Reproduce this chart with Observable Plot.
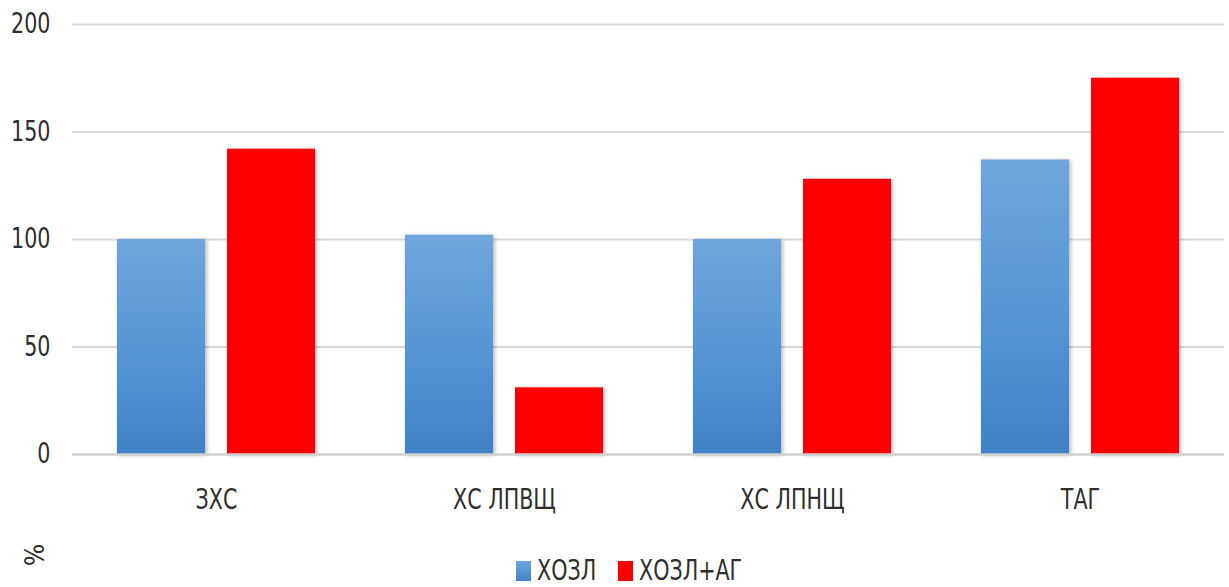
<!DOCTYPE html>
<html>
<head>
<meta charset="utf-8">
<script src="https://cdn.jsdelivr.net/npm/d3@7"></script>
<script src="https://cdn.jsdelivr.net/npm/@observablehq/plot@0.6"></script>
<style>
  body { margin: 0; background: #fff; }
  #wrap { position: relative; width: 1229px; height: 587px; font-family: "Liberation Sans Narrow", "DejaVu Sans Condensed", "Liberation Sans", sans-serif; color: #2e2e2e; }
  #legend { position: relative; height: 47px; display: flex; justify-content: center; align-items: center; gap: 22px; font-size: 28px; padding-top: 14px; padding-left: 29px; box-sizing: border-box; }
  .item { display: flex; align-items: center; gap: 6px; }
  .sw { width: 15px; height: 20px; display: inline-block; }
  .lt { display: inline-block; transform: scaleX(0.82); transform-origin: left center; }
  #pct { position: absolute; left: 24px; top: 0px; font-size: 26px; transform: rotate(-90deg); transform-origin: center; }
</style>
</head>
<body>
<div id="wrap"></div>
<script>
// Lipid profile indicators, % of reference
const categories = ["ЗХС", "ХС ЛПВЩ", "ХС ЛПНЩ", "ТАГ"];
const seriesNames = ["ХОЗЛ", "ХОЗЛ+АГ"];
const copdValues = [100, 102, 100, 137];
const copdAhValues = [142, 31, 128, 175];
const yTicks = [0, 50, 100, 150, 200];
const axisTitle = "%";

const data = categories.flatMap((c, i) => [
  {category: c, series: seriesNames[0], value: copdValues[i]},
  {category: c, series: seriesNames[1], value: copdAhValues[i]}
]);

const font = '"Liberation Sans Narrow", "DejaVu Sans Condensed", "Liberation Sans", sans-serif';
const squeeze = 0.82; // narrow lettering

const chart = Plot.plot({
  width: 1229,
  height: 540,
  marginLeft: 70,
  marginRight: 4,
  marginTop: 24,
  marginBottom: 86,
  style: {fontFamily: font, fontSize: "28px", color: "#2e2e2e", background: "white"},
  fx: {domain: categories, padding: 0, label: null, axis: null},
  x: {domain: seriesNames, paddingInner: 0.198, paddingOuter: 0.40, axis: null},
  y: {domain: [0, 200], label: null},
  color: {domain: seriesNames, range: ["url(#copdGrad)", "#ff0000"]},
  marks: [
    Plot.ruleY(yTicks.slice(1), {stroke: "#d9d9d9", strokeWidth: 2}),
    Plot.barY(data, {fx: "category", x: "series", y: "value", fill: "series"}),
    Plot.ruleY([0], {stroke: "#d0d0d0", strokeWidth: 2.5}),
    Plot.axisY({ticks: yTicks, tickSize: 0, tickPadding: 22, label: null}),
    Plot.axisFx({anchor: "bottom", tickSize: 0, tickPadding: 35, label: null})
  ]
});

// gradient for the first series and a soft shadow under the bars
d3.select(chart).insert("defs", ":first-child").html(`
  <linearGradient id="copdGrad" x1="0" y1="0" x2="0" y2="1">
    <stop offset="0" stop-color="#6fa6dc"/>
    <stop offset="0.5" stop-color="#5696d4"/>
    <stop offset="1" stop-color="#4083c6"/>
  </linearGradient>
  <filter id="barShadow" x="-10%" y="-10%" width="130%" height="130%">
    <feDropShadow dx="1.5" dy="1" stdDeviation="2" flood-color="#000" flood-opacity="0.3"/>
  </filter>`);
chart.querySelectorAll('g[aria-label="bar"]').forEach(g => g.setAttribute("filter", "url(#barShadow)"));

// condense the axis lettering around each label's anchor point
chart.querySelectorAll('g[aria-label="y-axis tick label"] text, g[aria-label="fx-axis tick label"] text').forEach(t => {
  const tr = t.getAttribute("transform") || "";
  t.setAttribute("transform", `${tr} scale(${squeeze},1)`);
});

const wrap = document.getElementById("wrap");
wrap.appendChild(chart);

const legend = document.createElement("div");
legend.id = "legend";
const swatchFills = ["linear-gradient(#6fa6dc, #4083c6)", "#ff0000"];
const labels = [];
seriesNames.forEach((s, i) => {
  const item = document.createElement("span");
  item.className = "item";
  const sw = document.createElement("span");
  sw.className = "sw";
  sw.style.background = swatchFills[i];
  const t = document.createElement("span");
  t.className = "lt";
  t.textContent = s;
  item.append(sw, t);
  legend.appendChild(item);
  labels.push(t);
});
const pct = document.createElement("div");
pct.id = "pct";
pct.textContent = axisTitle;
legend.appendChild(pct);
wrap.appendChild(legend);
// reclaim the space freed by the horizontal squeeze
labels.forEach(t => { t.style.marginRight = `${-t.offsetWidth * (1 - squeeze)}px`; });
</script>
</body>
</html>
